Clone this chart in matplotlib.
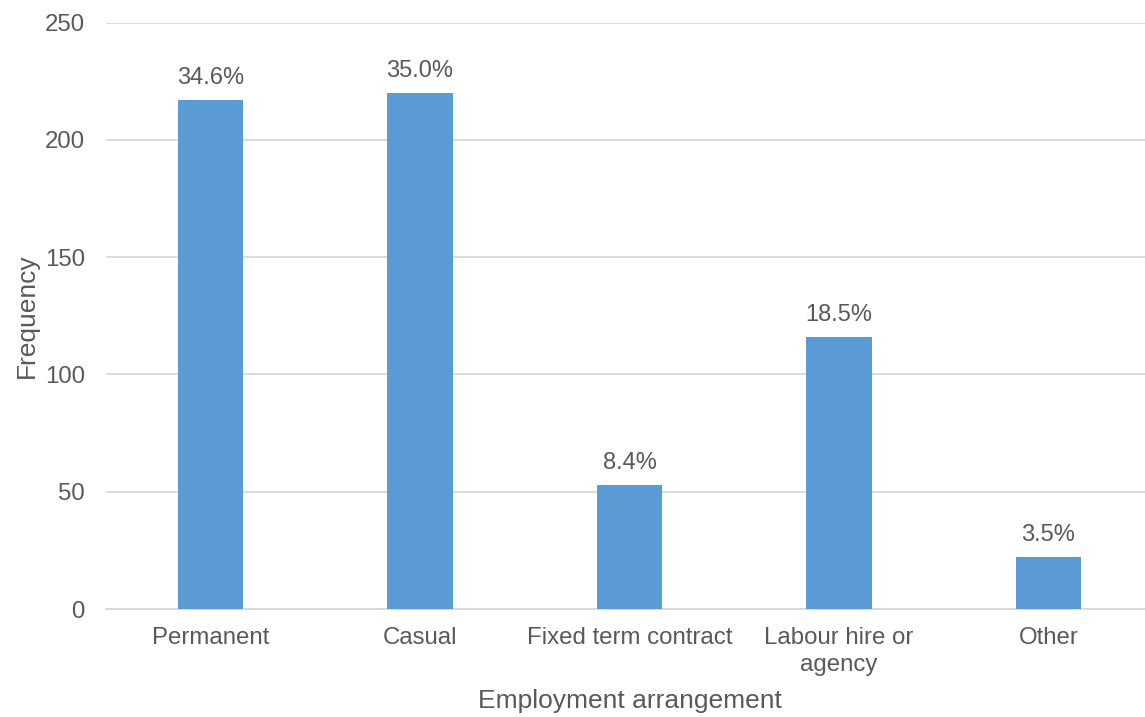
import matplotlib.pyplot as plt

plt.rcParams['font.family'] = ['Liberation Sans', 'DejaVu Sans']

# Employment arrangement counts and shares
categories = ["Permanent", "Casual", "Fixed term contract", "Labour hire or\nagency", "Other"]
frequency = [217, 220, 53, 116, 22]
pct_labels = ["34.6%", "35.0%", "8.4%", "18.5%", "3.5%"]
y_ticks = [0, 50, 100, 150, 200, 250]

TEXT = "#595959"
BAR = "#5B9BD5"
GRID = "#D9D9D9"

fig = plt.figure(figsize=(11.45, 7.17), dpi=100)
ax = fig.add_axes([105.75 / 1145, 1 - 609 / 717, 1047.5 / 1145, 586.3 / 717])

x = range(len(categories))
bars = ax.bar(x, frequency, width=0.315, color=BAR, zorder=3)

for b, lab in zip(bars, pct_labels):
    ax.annotate(lab, (b.get_x() + b.get_width() / 2, b.get_height()),
                xytext=(0, 8), textcoords="offset points",
                ha="center", va="bottom", fontsize=17, color=TEXT)

ax.set_xlim(-0.5, len(categories) - 0.5)
ax.set_ylim(0, 250)
ax.set_yticks(y_ticks)
ax.set_xticks(list(x))
ax.set_xticklabels(categories, linespacing=1.32)

ax.grid(axis="y", color=GRID, linewidth=1.3, zorder=0)
for s in ["top", "right", "left"]:
    ax.spines[s].set_visible(False)
ax.spines["bottom"].set_color(GRID)
ax.spines["bottom"].set_linewidth(1.3)

ax.tick_params(axis="both", length=0, labelsize=17.3, labelcolor=TEXT)
ax.tick_params(axis="x", pad=13)
ax.tick_params(axis="y", pad=15)

ax.set_xlabel("Employment arrangement", fontsize=19, color=TEXT, labelpad=9)
ax.set_ylabel("Frequency", fontsize=19, color=TEXT, labelpad=4)

plt.savefig("out.png", dpi=100)
plt.close()
